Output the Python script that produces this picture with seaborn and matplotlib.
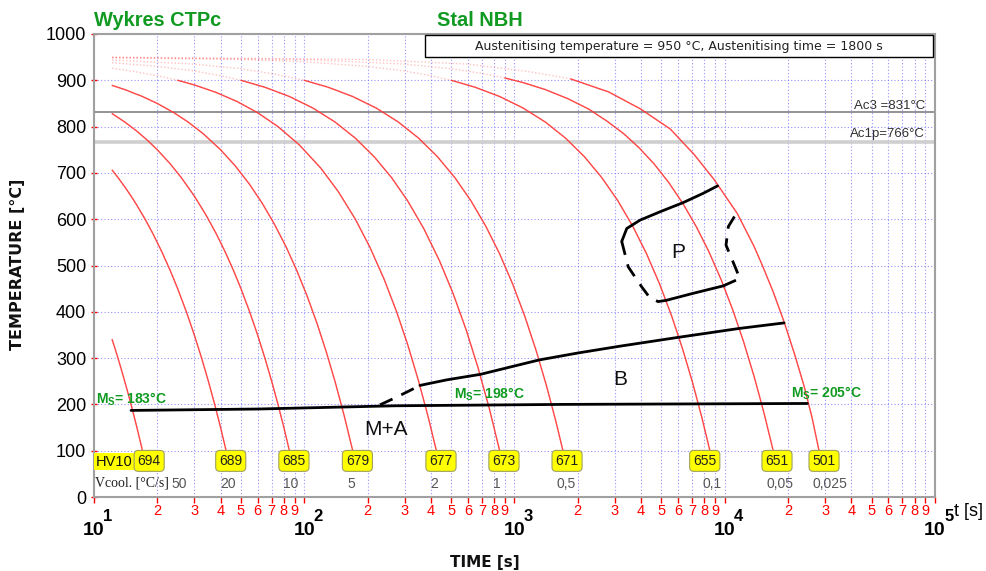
import matplotlib
matplotlib.use("Agg")
import matplotlib.pyplot as plt
import matplotlib.transforms as mtrans
from matplotlib.patches import Rectangle
import pandas as pd
import seaborn as sns

# ---------------- data ----------------
rate_labels = ["50", "20", "10", "5", "2", "1", "0,5", "0,1", "0,05", "0,025"]
hardness = [694, 689, 685, 679, 677, 673, 671, 655, 651, 501]
hv_time = [18.3, 44.7, 89.3, 179, 447, 891, 1778, 8033, 17720, 29660]
vcool_time = [25.4, 43.2, 86.3, 166.7, 414, 826, 1758, 8750, 18320, 31700]

c1_t = [12.2, 12.6, 13.0, 13.5, 14.0, 14.5, 15.0, 15.5, 16.0, 16.5, 17.0]
c1_T = [340, 320, 300, 275, 250, 225, 200, 175, 150, 125, 100]
c2_t = [12.2, 13, 14, 15, 16, 17.5, 19, 21, 23, 25, 27.5, 30, 32.5, 35, 37.5, 40, 42.5]
c2_T = [706, 690, 670, 650, 630, 600, 570, 530, 490, 450, 400, 350, 300, 250, 200, 150, 100]
c3_t = [12.2, 14, 16, 18, 20, 23, 26, 30, 34, 38, 42, 46, 50, 55, 60, 65, 70, 75, 80, 85]
c3_T = [828, 810, 790, 770, 750, 720, 690, 650, 610, 570, 530, 490, 450, 400, 350, 300, 250,
        200, 150, 100]
c4_t = [12.2, 14, 17, 20, 24, 28, 33, 40, 47, 55, 63, 72, 82, 92, 103, 115, 127, 140, 155, 170]
c4_T = [889, 880, 865, 850, 830, 810, 785, 750, 715, 675, 635, 590, 540, 490, 435, 375, 315,
        250, 175, 100]
c5_t = [12.2, 16, 20, 25, 30, 38, 48, 60, 75, 95, 120, 145, 175, 205, 240, 275, 310, 350, 390,
        425]
c5_T = [926, 918, 910, 900, 890, 874, 854, 830, 800, 760, 710, 660, 600, 540, 470, 400, 330,
        250, 170, 100]
c6_t = [12.2, 20, 30, 40, 50, 65, 85, 110, 140, 175, 215, 260, 310, 370, 440, 510, 590, 670,
        760, 850]
c6_T = [938, 930, 920, 910, 900, 885, 865, 840, 810, 775, 735, 690, 640, 580, 510, 440, 360,
        280, 190, 100]
c7_t = [12.2, 30, 50, 75, 100, 130, 170, 220, 280, 350, 430, 520, 620, 730, 850, 980, 1120,
        1270, 1420, 1570, 1700]
c7_T = [944, 935, 925, 912, 900, 885, 865, 840, 810, 775, 735, 690, 640, 585, 525, 460, 390,
        315, 240, 165, 100]
c8_t = [12.2, 50, 100, 200, 300, 400, 500, 650, 850, 1100, 1400, 1750, 2150, 2600, 3100, 3650,
        4250, 4900, 5600, 6300, 7000, 7750, 8500]
c8_T = [949, 945, 940, 930, 920, 910, 900, 885, 865, 840, 810, 775, 735, 690, 640, 585, 525,
        460, 390, 320, 250, 175, 100]
c9_t = [12.2, 100, 300, 500, 700, 900, 1100, 1400, 1800, 2250, 2750, 3300, 3900, 4600, 5400,
        6300, 7300, 8400, 9600, 10900, 12300, 13800, 15400, 17000]
c9_T = [949, 945, 935, 925, 915, 905, 895, 880, 860, 838, 812, 785, 755, 720, 680, 635, 585,
        530, 470, 405, 335, 260, 180, 100]
c10_t = [12.2, 200, 600, 1200, 1850, 2800, 3980, 5500, 7145, 8890, 11480, 13760, 15100, 17000,
         19130, 21500, 23830, 26000, 28050]
c10_T = [950, 945, 935, 918, 903, 875, 838, 795, 740, 686, 612, 542, 500, 443, 379, 308, 240,
         172, 101]

ms_t = [15, 60, 270, 1700, 24700]
ms_T = [187, 190, 197, 200, 202]
ms_values = [183, 198, 205]
ms_label_t = [10.2, 516, 20590]
ms_label_T = [211, 222, 224]

bs_dash_t = [229, 270, 315, 355]
bs_dash_T = [199, 214, 229, 241]
bs_t = [355, 476, 690, 1000, 1309, 2000, 3199, 6050, 11700, 19150]
bs_T = [241, 253, 265, 283, 296, 311, 326, 345, 364, 376]

p_start_t = [3236, 3420, 3956, 4921, 6353, 7907, 9250]
p_start_T = [552, 580, 598, 616, 636, 656, 672]
p_left_t = [3236, 3475, 4026, 4406, 4830]
p_left_T = [552, 497, 454, 430, 422]
p_end_t = [4830, 5295, 7087, 9840]
p_end_T = [422, 425, 440, 456]
p_right_t = [9840, 11800, 11200, 10140, 10400, 11300]
p_right_T = [456, 472, 497, 544, 584, 611]

ac3 = 831
ac1p = 766

# ---------------- style ----------------
sns.set_theme(style="white")
plt.rcParams["font.family"] = ["Liberation Sans", "DejaVu Sans"]
plt.rcParams["mathtext.default"] = "regular"

GREEN = "#119a22"
RED = "#ff3535"

fig = plt.figure(figsize=(9.87, 5.71), dpi=100)
ax = fig.add_axes([94 / 987, 74 / 571, 841 / 987, 463 / 571])
ax.set_xscale("log")
ax.set_xlim(10, 1e5)
ax.set_ylim(0, 1000)

# ---------------- cooling curves ----------------
curves_t = [c1_t, c2_t, c3_t, c4_t, c5_t, c6_t, c7_t, c8_t, c9_t, c10_t]
curves_T = [c1_T, c2_T, c3_T, c4_T, c5_T, c6_T, c7_T, c8_T, c9_T, c10_T]
rows_all, rows_solid = [], []
for i, (ts, Ts) in enumerate(zip(curves_t, curves_T)):
    for t, T in zip(ts, Ts):
        rows_all.append({"curve": i, "t": t, "T": T})
        if T <= 905:
            rows_solid.append({"curve": i, "t": t, "T": T})
df_all = pd.DataFrame(rows_all)
df_solid = pd.DataFrame(rows_solid)

sns.lineplot(data=df_all, x="t", y="T", units="curve", estimator=None, color=RED,
             lw=1.0, alpha=0.3, ls=(0, (1, 1.5)), ax=ax, legend=False, zorder=3)
sns.lineplot(data=df_solid, x="t", y="T", units="curve", estimator=None, color=RED,
             lw=1.0, alpha=0.9, ax=ax, legend=False, zorder=3)

# ---------------- Ac lines ----------------
ax.axhline(ac3, color="#8a8a8a", lw=1.3, zorder=2)
ax.axhline(ac1p, color="#cfcfcf", lw=2.6, zorder=2)
ax.text(0.988, 845, f"Ac3 ={ac3}°C", transform=ax.get_yaxis_transform(), ha="right",
        va="center", fontsize=9.5, color="#303030")
ax.text(0.988, 784, f"Ac1p={ac1p}°C", transform=ax.get_yaxis_transform(), ha="right",
        va="center", fontsize=9.5, color="#303030")

# ---------------- transformation lines ----------------
def black_line(ts, Ts, dashed=False, lw=2.0):
    d = pd.DataFrame({"t": ts, "T": Ts})
    sns.lineplot(data=d, x="t", y="T", sort=False, estimator=None, color="black", lw=lw,
                 ls=(0, (5, 3.5)) if dashed else "-", ax=ax, zorder=5)

black_line(ms_t, ms_T, lw=2.0)
black_line(bs_dash_t, bs_dash_T, dashed=True)
black_line(bs_t, bs_T)
black_line(p_start_t, p_start_T)
black_line(p_left_t, p_left_T, dashed=True)
black_line(p_end_t, p_end_T)
black_line(p_right_t, p_right_T, dashed=True)

ax.text(5998, 529, "P", fontsize=15, ha="center", va="center", color="#111111", zorder=6)
ax.text(3177, 253, "B", fontsize=15, ha="center", va="center", color="#111111", zorder=6)
ax.text(245, 145, "M+A", fontsize=15, ha="center", va="center", color="#111111", zorder=6)

for v, t, T in zip(ms_values, ms_label_t, ms_label_T):
    ax.text(t, T, r"M$_{S}$= " + f"{v}°C", fontsize=10, fontweight="bold", color=GREEN,
            ha="left", va="center", zorder=6)

# ---------------- hardness boxes / cooling rates ----------------
ax.text(10.15, 76, "HV10", fontsize=10.5, ha="left", va="center", color="#111111", zorder=7,
        bbox=dict(boxstyle="square,pad=0.1", facecolor="#ffff00", edgecolor="none"))
for hv, t in zip(hardness, hv_time):
    ax.text(t, 78, str(hv), fontsize=10, ha="center", va="center", color="#202020", zorder=7,
            bbox=dict(boxstyle="round,pad=0.25,rounding_size=0.3", facecolor="#ffff00",
                      edgecolor="#a0a060", lw=0.8))
ax.text(10.15, 30, "Vcool. [°C/s]", fontsize=10, family="Liberation Serif", ha="left",
        va="center", color="#222222", zorder=7)
for lab, t in zip(rate_labels, vcool_time):
    ax.text(t, 28, lab, fontsize=10, ha="center", va="center", color="#555555", zorder=7)

# ---------------- info box ----------------
ax.add_patch(Rectangle((0.3936, 0.950), 0.604, 0.048, transform=ax.transAxes,
                       facecolor="white", edgecolor="black", lw=1.0, zorder=8))
ax.text(0.6956, 0.974, "Austenitising temperature = 950 °C, Austenitising time = 1800 s",
        transform=ax.transAxes, ha="center", va="center", fontsize=9, family="DejaVu Sans",
        color="#222222", zorder=9)

# ---------------- axes, ticks, grid ----------------
majors = [10, 100, 1000, 10000, 100000]
minors = [k * 10 ** d for d in range(1, 5) for k in range(2, 10)]
ax.set_xticks(majors)
ax.set_xticklabels([""] * len(majors))
ax.set_xticks(minors, labels=[str(k) for d in range(1, 5) for k in range(2, 10)], minor=True)
ax.set_yticks(range(0, 1001, 100))
ax.set_yticklabels([str(v) for v in range(0, 1001, 100)])

ax.tick_params(axis="x", which="both", bottom=True, direction="out", length=4, width=1,
               color="red")
ax.tick_params(axis="x", which="minor", labelcolor="red", labelsize=10.5, pad=1)
ax.tick_params(axis="y", left=True, direction="inout", length=5, width=1, color="red",
               labelsize=13, labelcolor="black", pad=3)

ax.grid(True, which="both", axis="both", color="#6f6fff", ls=(0, (1, 2)), lw=0.8,
        alpha=0.75, zorder=1)
ax.set_axisbelow(True)
for sp in ax.spines.values():
    sp.set_color("#a0a0a0")
    sp.set_linewidth(1.5)

ax.set_xlabel("")
ax.set_ylabel("")

# major x labels drawn as 10 + exponent
base = ax.get_xaxis_transform()
off = mtrans.offset_copy(base, fig=fig, x=14, y=0, units="dots")
for e, t in enumerate(majors, start=1):
    ax.text(t, -0.0713, "10", transform=base, ha="center", va="center", fontsize=14,
            fontweight="bold", color="black", clip_on=False)
    ax.text(t, -0.043, str(e), transform=off, ha="center", va="center", fontsize=12,
            fontweight="bold", color="black", clip_on=False)

fig.text(969 / 987, 1 - 511 / 571, "t [s]", ha="center", va="center", fontsize=13,
         color="black")
fig.text(485 / 987, 1 - 562 / 571, "TIME [s]", ha="center", va="center", fontsize=11,
         fontweight="bold", family="DejaVu Sans", color="#111111")
fig.text(18 / 987, 1 - 264 / 571, "TEMPERATURE [°C]", ha="center", va="center", fontsize=11.5,
         fontweight="bold", family="DejaVu Sans", rotation=90, color="#111111")

fig.text(94 / 987, 1 - 26 / 571, "Wykres CTPc", ha="left", va="baseline", fontsize=14.4,
         fontweight="bold", color=GREEN)
fig.text(437 / 987, 1 - 26 / 571, "Stal NBH", ha="left", va="baseline", fontsize=14.4,
         fontweight="bold", color=GREEN)

fig.savefig("out.png", dpi=100)
